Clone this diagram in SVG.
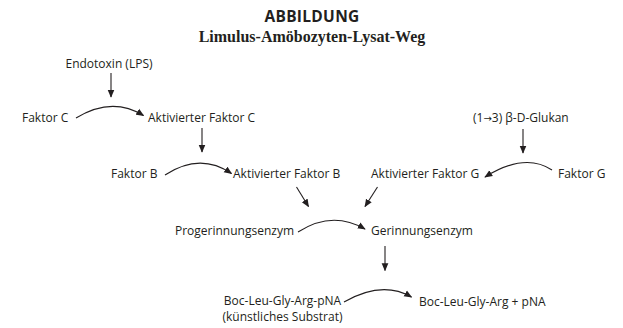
<svg xmlns="http://www.w3.org/2000/svg" width="623" height="328" viewBox="0 0 623 328">
<style>
.t{font-family:"Open Sans","Noto Sans","Liberation Sans",sans-serif;font-size:12px;fill:#231f20}
.ar{font-family:"DejaVu Sans",sans-serif;font-size:10px}
.h{font-family:"Open Sans","Liberation Sans",sans-serif;font-size:15.5px;font-weight:700;letter-spacing:0.3px;fill:#231f20}
.s{font-family:"Liberation Serif","Times New Roman",serif;font-size:16px;font-weight:700;fill:#231f20}
.c path,.c line{fill:none;stroke:#231f20;stroke-width:1.1;marker-end:url(#ah)}
</style>
<defs>
<marker id="ah" viewBox="0 0 10 10" refX="9" refY="5" markerWidth="8" markerHeight="8" markerUnits="userSpaceOnUse" orient="auto">
<path d="M0,0.8 L10,5 L0,9.2 Z" fill="#231f20"/>
</marker>
</defs>
<rect width="623" height="328" fill="#fff"/>
<text class="h" x="312" y="22" text-anchor="middle">ABBILDUNG</text>
<text class="s" x="312" y="42" text-anchor="middle">Limulus-Amöbozyten-Lysat-Weg</text>
<g id="endotoxin"><text class="t" x="109" y="68" text-anchor="middle">Endotoxin (LPS)</text></g>
<g id="faktorC"><text class="t" x="22" y="122">Faktor C</text></g>
<g id="aktC"><text class="t" x="148" y="122">Aktivierter Faktor C</text></g>
<g id="faktorB"><text class="t" x="111" y="178">Faktor B</text></g>
<g id="aktB"><text class="t" x="233" y="178">Aktivierter Faktor B</text></g>
<g id="glukan"><text class="t" x="473" y="122">(1<tspan class="ar">→</tspan>3) β-D-Glukan</text></g>
<g id="aktG"><text class="t" x="371" y="178">Aktivierter Faktor G</text></g>
<g id="faktorG"><text class="t" x="558" y="178">Faktor G</text></g>
<g id="pro"><text class="t" x="294" y="235" text-anchor="end">Progerinnungsenzym</text></g>
<g id="ger"><text class="t" x="371" y="235">Gerinnungsenzym</text></g>
<g id="boc"><text class="t" x="282.5" y="305" text-anchor="middle">Boc-Leu-Gly-Arg-pNA</text><text class="t" x="282.5" y="320.5" text-anchor="middle">(künstliches Substrat)</text></g>
<g id="product"><text class="t" x="419" y="306">Boc-Leu-Gly-Arg + pNA</text></g>
<g id="connectors" class="c">
<line x1="111" y1="73" x2="111" y2="97"/>
<path d="M76,118 Q112,96 143.5,115.5"/>
<line x1="202" y1="128" x2="202" y2="152"/>
<path d="M165,175 Q200,152 231.5,173.5"/>
<line x1="523" y1="129" x2="523" y2="153"/>
<path d="M552,170 Q525,152 485,177"/>
<line x1="296.5" y1="187" x2="308.5" y2="206.5"/>
<line x1="377.5" y1="187" x2="365" y2="206.5"/>
<path d="M298,232 Q332,210 365,229"/>
<line x1="385" y1="246" x2="385" y2="270.5"/>
<path d="M344,302 Q382,280 411.5,297"/>
</g>
</svg>
